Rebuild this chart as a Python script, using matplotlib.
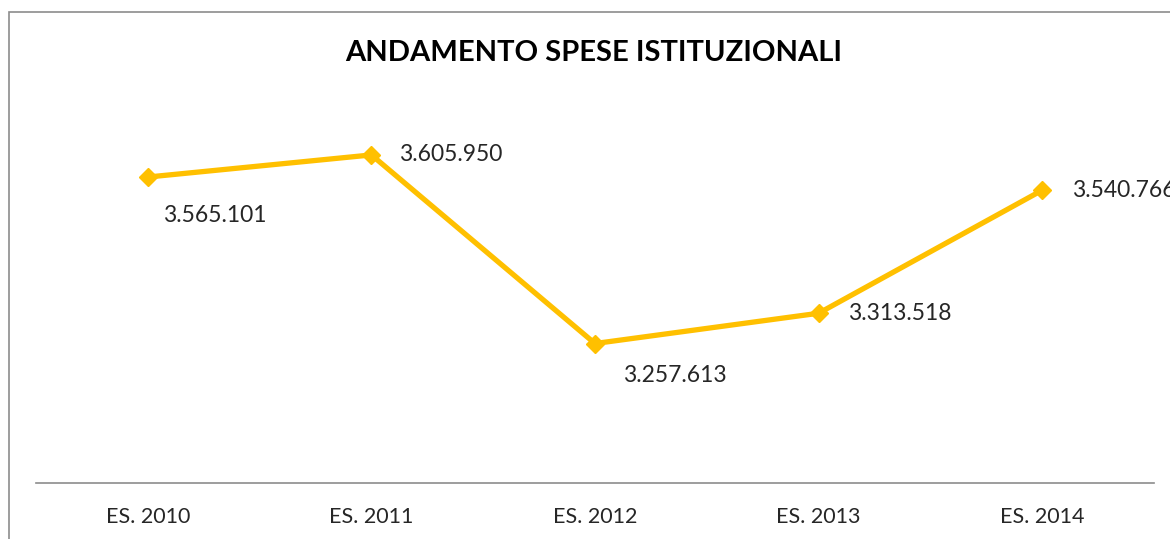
import matplotlib.pyplot as plt
import matplotlib.patches as mpatches

plt.rcParams['font.family'] = ['Lato', 'DejaVu Sans']

# Data
years = ['ES. 2010', 'ES. 2011', 'ES. 2012', 'ES. 2013', 'ES. 2014']
spese = [3565101, 3605950, 3257613, 3313518, 3540766]

def fmt_it(v):
    return f"{v:,}".replace(',', '.')

fig = plt.figure(figsize=(11.7, 5.39), dpi=100)
ax = fig.add_axes([36 / 1170, 56 / 539, 1118 / 1170, 379 / 539])

# Chart border (light gray, partially cropped)
border = mpatches.Rectangle((9 / 1170, -0.1), 1.2, (539 - 12) / 539 + 0.1,
                            transform=fig.transFigure, fill=False,
                            edgecolor='#8c8c8c', linewidth=1.2, zorder=0)
fig.patches.append(border)

x = list(range(len(years)))
color_line = '#FFC000'
ax.plot(x, spese, '-', color=color_line, linewidth=3.8, marker='D',
        markersize=9, markerfacecolor=color_line, markeredgecolor=color_line,
        solid_joinstyle='round', clip_on=False, zorder=3)

# Data labels (offsets in pixels)
offsets = [(15, -38), (28, 0), (28, -32), (29, 0), (30, 0)]
for xi, v, (dx, dy) in zip(x, spese, offsets):
    ax.annotate(fmt_it(v), xy=(xi, v), xytext=(dx, dy),
                textcoords='offset pixels', ha='left', va='center',
                fontsize=16.5, color='#262626', annotation_clip=False)

ax.set_xlim(-0.5, len(years) - 0.5)
ax.set_ylim(3000000, 3700000)
ax.set_xticks(x)
ax.set_xticklabels(years, fontsize=15.5, color='#262626')
ax.set_yticks([])
ax.tick_params(axis='x', length=0, pad=17)

for side in ['top', 'right', 'left']:
    ax.spines[side].set_visible(False)
ax.spines['bottom'].set_color('#8c8c8c')
ax.spines['bottom'].set_linewidth(1.2)

fig.text(594 / 1170, 1 - 53 / 539, 'ANDAMENTO SPESE ISTITUZIONALI',
         ha='center', va='center', fontsize=21, fontweight='bold',
         color='black')

fig.savefig('out.png', dpi=100)
